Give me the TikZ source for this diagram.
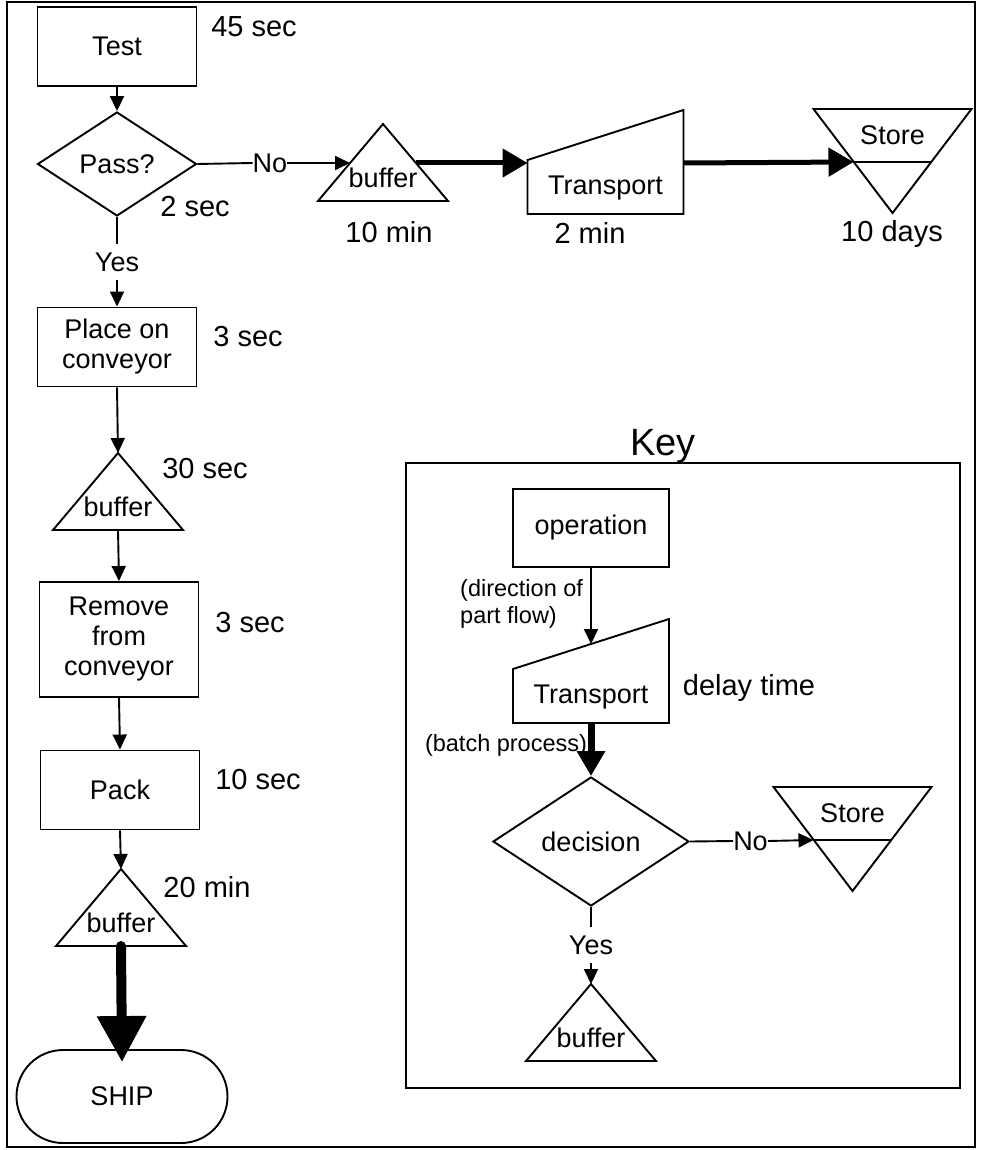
\documentclass[tikz,border=0pt]{standalone}
\usepackage{fontspec}
\setmainfont{Liberation Sans}
\usetikzlibrary{shapes.geometric,shapes.misc,arrows.meta}
\tikzset{
  outline/.style={line width=1.9pt},
  txt/.style={font=\fontsize{27}{30}\selectfont, inner sep=0pt, align=center},
  timelbl/.style={font=\fontsize{29}{32}\selectfont, inner sep=0pt},
  smalllbl/.style={font=\fontsize{23.5}{27}\selectfont, inner sep=0pt, align=left},
  opbox/.style={txt, outline, draw, minimum width=159pt, minimum height=79pt},
  decide/.style={txt, outline, draw, diamond, aspect=1.5},
  answer/.style={txt, inner ysep=8pt},
  flow/.style={outline, -{Triangle[length=15pt,width=14pt]}},
  batch/.style={line width=5pt, -{Triangle[length=25pt,width=28pt]}},
  buffertri/.pic={
    \draw[outline] (0,-54) -- (65,23) -- (-65,23) -- cycle;
    \node[txt] (-t) at (0,0) {buffer};
    \coordinate (-apex) at (0,-54);
    \coordinate (-base) at (0,23);
    \coordinate (-in) at (-33,-15);
    \coordinate (-out) at (33,-15);
  },
  transportbox/.pic={
    \draw[outline] (-78,-28) -- (78,-78) -- (78,26) -- (-78,26) -- cycle;
    \node[txt] (-t) at (0,0) {Transport};
    \coordinate (-in) at (-78,-25);
    \coordinate (-out) at (78,-25);
    \coordinate (-top) at (0,-53);
    \coordinate (-bot) at (0,26);
  },
  storetri/.pic={
    \draw[outline] (-79,-26) -- (79,-26) -- (0,78) -- cycle;
    \draw[outline] (-39,27) -- (39,27);
    \node[txt] (-t) at (0,0) {Store};
    \coordinate (-in) at (-39,27);
  },
}
\begin{document}
\begin{tikzpicture}[x=1pt, y=-1pt]
        \useasboundingbox (0,0) rectangle (981,1150);
        \draw[outline] (7,2) rectangle (975,1147);
        % main flow
        \node[opbox] (test) at (117,46.5) {Test};
        \node[decide, minimum width=159pt, minimum height=104pt] (pass) at (117,164) {Pass?};
        \node[answer, inner xsep=0pt] (no) at (270,163) {No};
        \pic (buf1) at (383,178) {buffertri};
        \pic (trans) at (605.5,188) {transportbox};
        \pic (store) at (892.5,135) {storetri};
        \node[answer] (yes) at (117,262) {Yes};
        \node[opbox] (place) at (117,347) {Place on\\conveyor};
        \pic (buf2) at (118,507) {buffertri};
        \node[opbox, minimum height=115pt] (remove) at (119,639.5) {Remove\\from\\conveyor};
        \node[opbox] (pack) at (120,790) {Pack};
        \pic (buf3) at (121,923) {buffertri};
        \node[txt, outline, draw, rounded rectangle, minimum width=211pt, minimum height=93pt] (ship) at (122,1096.5) {SHIP};
        \draw[flow] (test) -- (pass);
        \draw[outline] (pass.east) -- (no.west);
        \draw[flow] (no.east) -- (buf1-in);
        \draw[batch] (buf1-out) -- (trans-in);
        \draw[batch] (trans-out) -- (store-in);
        \draw[outline] (pass.south) -- (yes.north);
        \draw[flow] (yes.south) -- (place.north);
        \draw[flow] (place.south) -- (buf2-apex);
        \draw[flow] (buf2-base) -- (remove.north);
        \draw[flow] (remove.south) -- (pack.north);
        \draw[flow] (pack.south) -- (buf3-apex);
        \draw[line width=10pt, line cap=round, -{Triangle[length=46pt,width=47pt]}] (buf3-base) -- ([yshift=-13pt]ship.north);
        % times
        \node[timelbl] (t1) at (254,27) {45 sec};
        \node[timelbl] (t2) at (195,207) {2 sec};
        \node[timelbl] (t3) at (389,232) {10 min};
        \node[timelbl] (t4) at (590,233) {2 min};
        \node[timelbl] (t5) at (892,234) {10 days};
        \node[timelbl] (t6) at (248,337) {3 sec};
        \node[timelbl] (t7) at (205,469) {30 sec};
        \node[timelbl] (t8) at (250,623) {3 sec};
        \node[timelbl] (t9) at (258,780) {10 sec};
        \node[timelbl] (t10) at (207,887) {20 min};
        % key
        \draw[outline] (406,463) rectangle (960,1088);
        \node[font=\fontsize{38}{40}\selectfont, inner sep=0pt, anchor=base] (key) at (663,455) {Key};
        \node[opbox, minimum width=156pt, minimum height=78pt] (op) at (591,528) {operation};
        \pic (ktrans) at (591,697) {transportbox};
        \node[decide, minimum width=196pt, minimum height=129pt] (dec) at (591,841.5) {decision};
        \node[answer, inner xsep=0pt] (kno) at (750.5,841) {No};
        \pic (kstore) at (852.5,813) {storetri};
        \node[answer] (kyes) at (591,945) {Yes};
        \pic (kbuf) at (591,1038) {buffertri};
        \node[smalllbl, anchor=west] (dirlbl) at (460,603.5) {(direction of\\part flow)};
        \node[smalllbl] (batchlbl) at (506,745) {(batch process)};
        \node[timelbl] (delay) at (749,688) {delay time};
        \draw[flow] (op.south) -- (ktrans-top);
        \draw[line width=7pt, -{Triangle[length=25pt,width=27pt]}] (ktrans-bot) -- (dec.north);
        \draw[outline] (dec.east) -- (kno.west);
        \draw[flow] (kno.east) -- (kstore-in);
        \draw[outline] (dec.south) -- (kyes.north);
        \draw[flow] (kyes.south) -- (kbuf-apex);
        \end{tikzpicture}
\end{document}
